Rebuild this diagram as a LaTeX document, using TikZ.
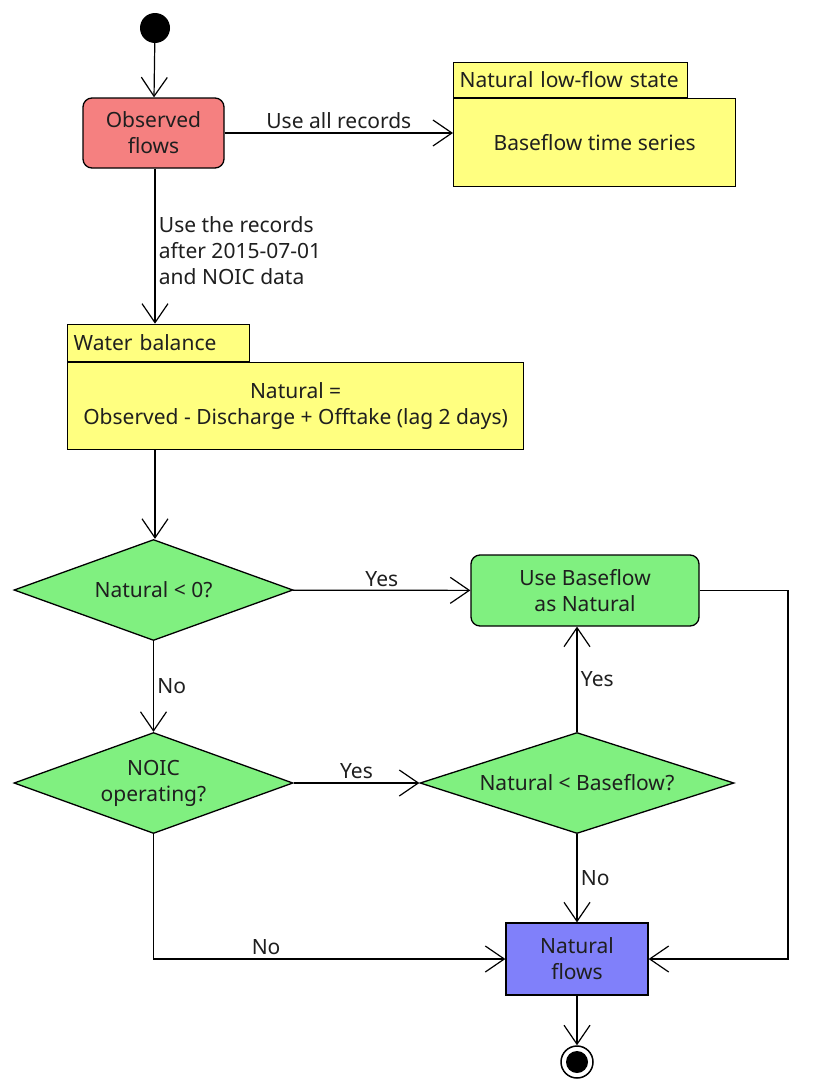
\documentclass[tikz,border=0pt]{standalone}
\usepackage{fontspec}
\setmainfont{Noto Sans}
\usetikzlibrary{arrows.meta,shapes.geometric}
\definecolor{obsred}{RGB}{245,128,128}
\definecolor{pkgyellow}{RGB}{255,255,128}
\definecolor{decgreen}{RGB}{128,240,128}
\definecolor{natblue}{RGB}{128,128,250}
\begin{document}
\begin{tikzpicture}[x=1pt,y=-1pt,
  every node/.style={font=\fontsize{21}{26}\selectfont,text=black!88},
  flow/.style={draw,line width=1.2pt,-{Straight Barb[length=19pt,width=26pt,line width=1.2pt]}},
  actbox/.style={draw,line width=1.3pt,rounded corners=9pt,align=center,inner sep=0pt},
  pkgbody/.style={draw,line width=1.3pt,fill=pkgyellow,anchor=north west,align=center,inner sep=0pt},
  pkgtab/.style={draw,line width=1.3pt,fill=pkgyellow,anchor=south west,inner sep=0pt,text depth=0pt},
  decide/.style={draw,diamond,line width=1.3pt,fill=decgreen,align=center,inner sep=0pt,aspect=2.76}]
 \useasboundingbox[fill=white](0,0) rectangle (816,1084);
 % start and input
 \node[circle,fill=black,minimum size=30pt,inner sep=0pt] (start) at (155,28) {};
 \node[actbox,fill=obsred,minimum width=141pt,minimum height=70pt] (obs) at (153.5,133) {Observed\\flows};
 % baseflow package
 \node[pkgbody,minimum width=282pt,minimum height=88pt] (base) at (453,98) {Baseflow time series};
 \node[pkgtab,minimum width=234pt,minimum height=35pt,text width=222pt] (basetab) at (453,98) {Natural low-flow state};
 % water balance package
 \node[pkgbody,minimum width=456pt,minimum height=87pt] (wb) at (67,362) {Natural =\\Observed - Discharge + Offtake (lag 2 days)};
 \node[pkgtab,minimum width=182pt,minimum height=37pt,text width=170pt] (wbtab) at (67,362) {Water balance};
 % decisions
 \node[decide,minimum width=279pt,minimum height=101pt] (neg) at (153.5,590) {Natural < 0?};
 \node[decide,minimum width=279pt,minimum height=101pt] (noic) at (153.5,783) {NOIC\\operating?};
 \node[decide,minimum width=314pt,minimum height=101pt] (low) at (577,783) {Natural < Baseflow?};
 \node[actbox,fill=decgreen,minimum width=228pt,minimum height=71pt] (useb) at (585,590.5) {Use Baseflow\\as Natural};
 % output
 \node[draw,line width=1.3pt,fill=natblue,minimum width=142pt,minimum height=72pt,align=center,inner sep=0pt] (nat) at (577,959) {Natural\\flows};
 \node[circle,draw,line width=1.5pt,fill=white,minimum size=32pt,inner sep=0pt] (stop) at (577,1062) {};
 \fill (stop) circle (11);
 % connectors
 \draw[flow] (start) -- (obs);
 \draw[flow] (obs) -- node[above] {Use all records} (obs.east -| base.west);
 \draw[flow] (obs.south -| start) -- node[right,align=left,pos=0.53] {Use the records\\after 2015-07-01\\and NOIC data} (wbtab.north -| start);
 \draw[flow] (wb.south -| start) -- (neg.north -| start);
 \draw[flow] (neg) -- node[above] {Yes} (useb);
 \draw[flow] (neg) -- node[right] {No} (noic);
 \draw[flow] (noic) -- node[above] {Yes} (low);
 \draw[flow] (low.north -| nat) -- node[right] {Yes} (useb.south -| nat);
 \draw[flow] (low.south -| nat) -- node[right] {No} (nat);
 \draw[flow] (noic) |- node[above,pos=0.66] {No} (nat);
 \coordinate (bend) at (788,590.5);
 \draw[flow] (useb) -- (bend) |- (nat);
 \draw[flow] (nat) -- (stop);
\end{tikzpicture}
\end{document}
